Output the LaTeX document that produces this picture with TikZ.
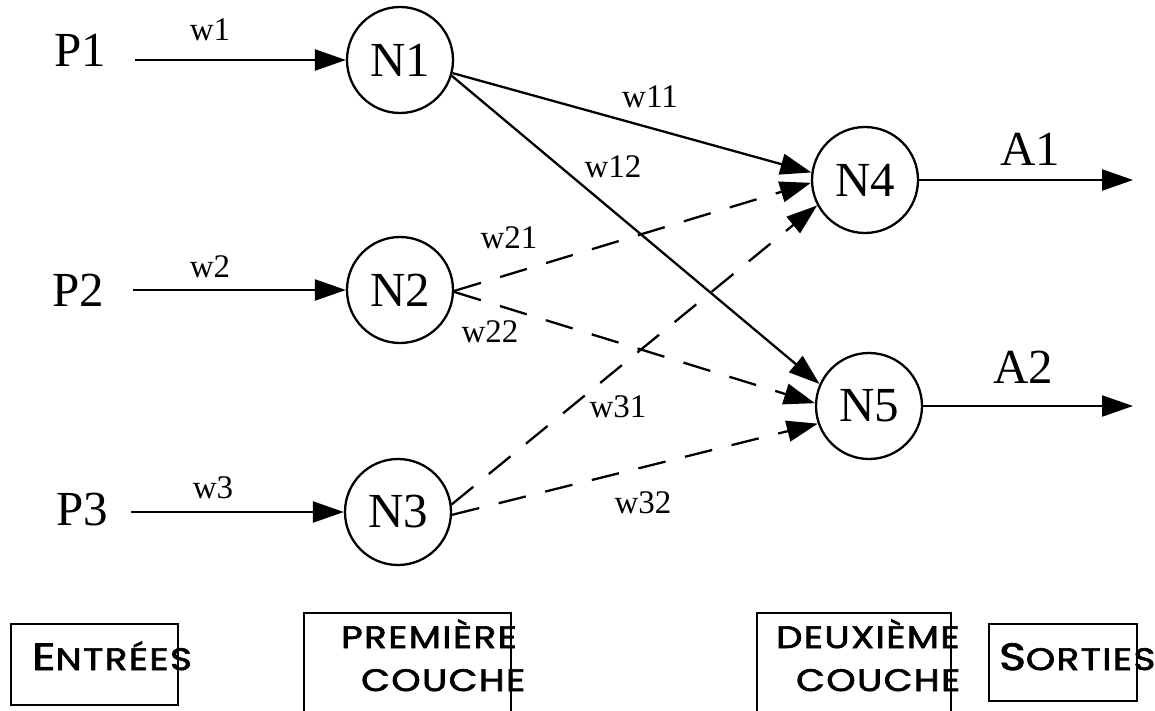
\documentclass[tikz,border=0pt]{standalone}
\usepackage{graphicx}
\usepackage{fontspec}
\setmainfont{Liberation Serif}
\newfontfamily\capsfont[LetterSpace=4, FakeBold=2]{Poppins}
\usetikzlibrary{arrows.meta}
\newcommand{\widecaps}[1]{\scalebox{1.2}[1]{#1}}
\begin{document}
\begin{tikzpicture}[x=1pt,y=-1pt,
  line width=2.3pt,
  big/.style={font=\fontsize{49}{51}\selectfont, inner sep=0pt},
  weight/.style={font=\fontsize{33}{36}\selectfont, inner sep=0pt},
  neuron/.style={draw, circle, minimum size=106pt, inner sep=0pt,
    font=\fontsize{49}{51}\selectfont},
  conn/.style={-{Triangle[length=31pt,width=21pt]}},
  dashconn/.style={conn, dash pattern=on 28pt off 20pt},
  layerbox/.style={draw, inner sep=0pt},
  caps/.style={font=\capsfont\fontsize{31}{33}\selectfont, inner sep=0pt,
    anchor=base west},
]
\useasboundingbox (0,0) rectangle (1155,711);

% inputs
\node[big] (P1) at (80,50) {P1};
\node[big] (P2) at (78,290) {P2};
\node[big] (P3) at (82,510) {P3};

% neurons
\node[neuron] (N1) at (400,60) {N1};
\node[neuron] (N2) at (400,290) {N2};
\node[neuron] (N3) at (398,512) {N3};
\node[neuron] (N4) at (865,180) {N4};
\node[neuron] (N5) at (869,406) {N5};

% output ends
\coordinate (out1) at (1133,180);
\coordinate (out2) at (1133,406);

% input connections
\draw[conn, shorten <=28pt] (P1.east |- N1.west) -- (N1.west);
\draw[conn, shorten <=28pt] (P2.east |- N2.west) -- (N2.west);
\draw[conn, shorten <=22pt] (P3.east |- N3.west) -- (N3.west);

% first to second layer
\draw[conn] (N1.-14) -- (N4.172);
\draw[conn] (N1.-17) -- (N5.156);
\draw[dashconn] (N2.-1) -- (N4.183);
\draw[dashconn] (N2.-2) -- (N5.177);
\draw[dashconn] (N3.8) -- (N4.208);
\draw[dashconn] (N3.-3) -- (N5.199);

% outputs
\draw[conn] (N4.east) -- (out1);
\draw[conn] (N5.east) -- (out2);
\node[big] (A1) at (1030,149) {A1};
\node[big] (A2) at (1023,367) {A2};

% weights
\node[weight] (w1) at (210,30) {w1};
\node[weight] (w2) at (210,267) {w2};
\node[weight] (w3) at (213,488) {w3};
\node[weight] (w11) at (650,97) {w11};
\node[weight] (w12) at (613,167) {w12};
\node[weight] (w21) at (509,238) {w21};
\node[weight] (w22) at (490,332) {w22};
\node[weight] (w31) at (618,407) {w31};
\node[weight] (w32) at (643,503) {w32};

% layer captions
\node[layerbox, minimum width=167pt, minimum height=81pt] (boxIn) at (94.5,664.5) {};
\node[layerbox, minimum width=207pt, minimum height=120pt] (boxL1) at (407.5,673) {};
\node[layerbox, minimum width=194pt, minimum height=120pt] (boxL2) at (854,673) {};
\node[layerbox, minimum width=148pt, minimum height=77pt] (boxOut) at (1063,662.5) {};

\node[caps] (tIn) at (31,670) {\widecaps{{\fontsize{38}{40}\selectfont E}NTRÉES}};
\node[caps] (tL1a) at (340,648) {\widecaps{PREMIÈRE}};
\node[caps] (tL1b) at (360,691) {\widecaps{COUCHE}};
\node[caps] (tL2a) at (775,648) {\widecaps{DEUXIÈME}};
\node[caps] (tL2b) at (795,691) {\widecaps{COUCHE}};
\node[caps] (tOut) at (998,670) {\widecaps{{\fontsize{38}{40}\selectfont S}ORTIES}};
\end{tikzpicture}
\end{document}
